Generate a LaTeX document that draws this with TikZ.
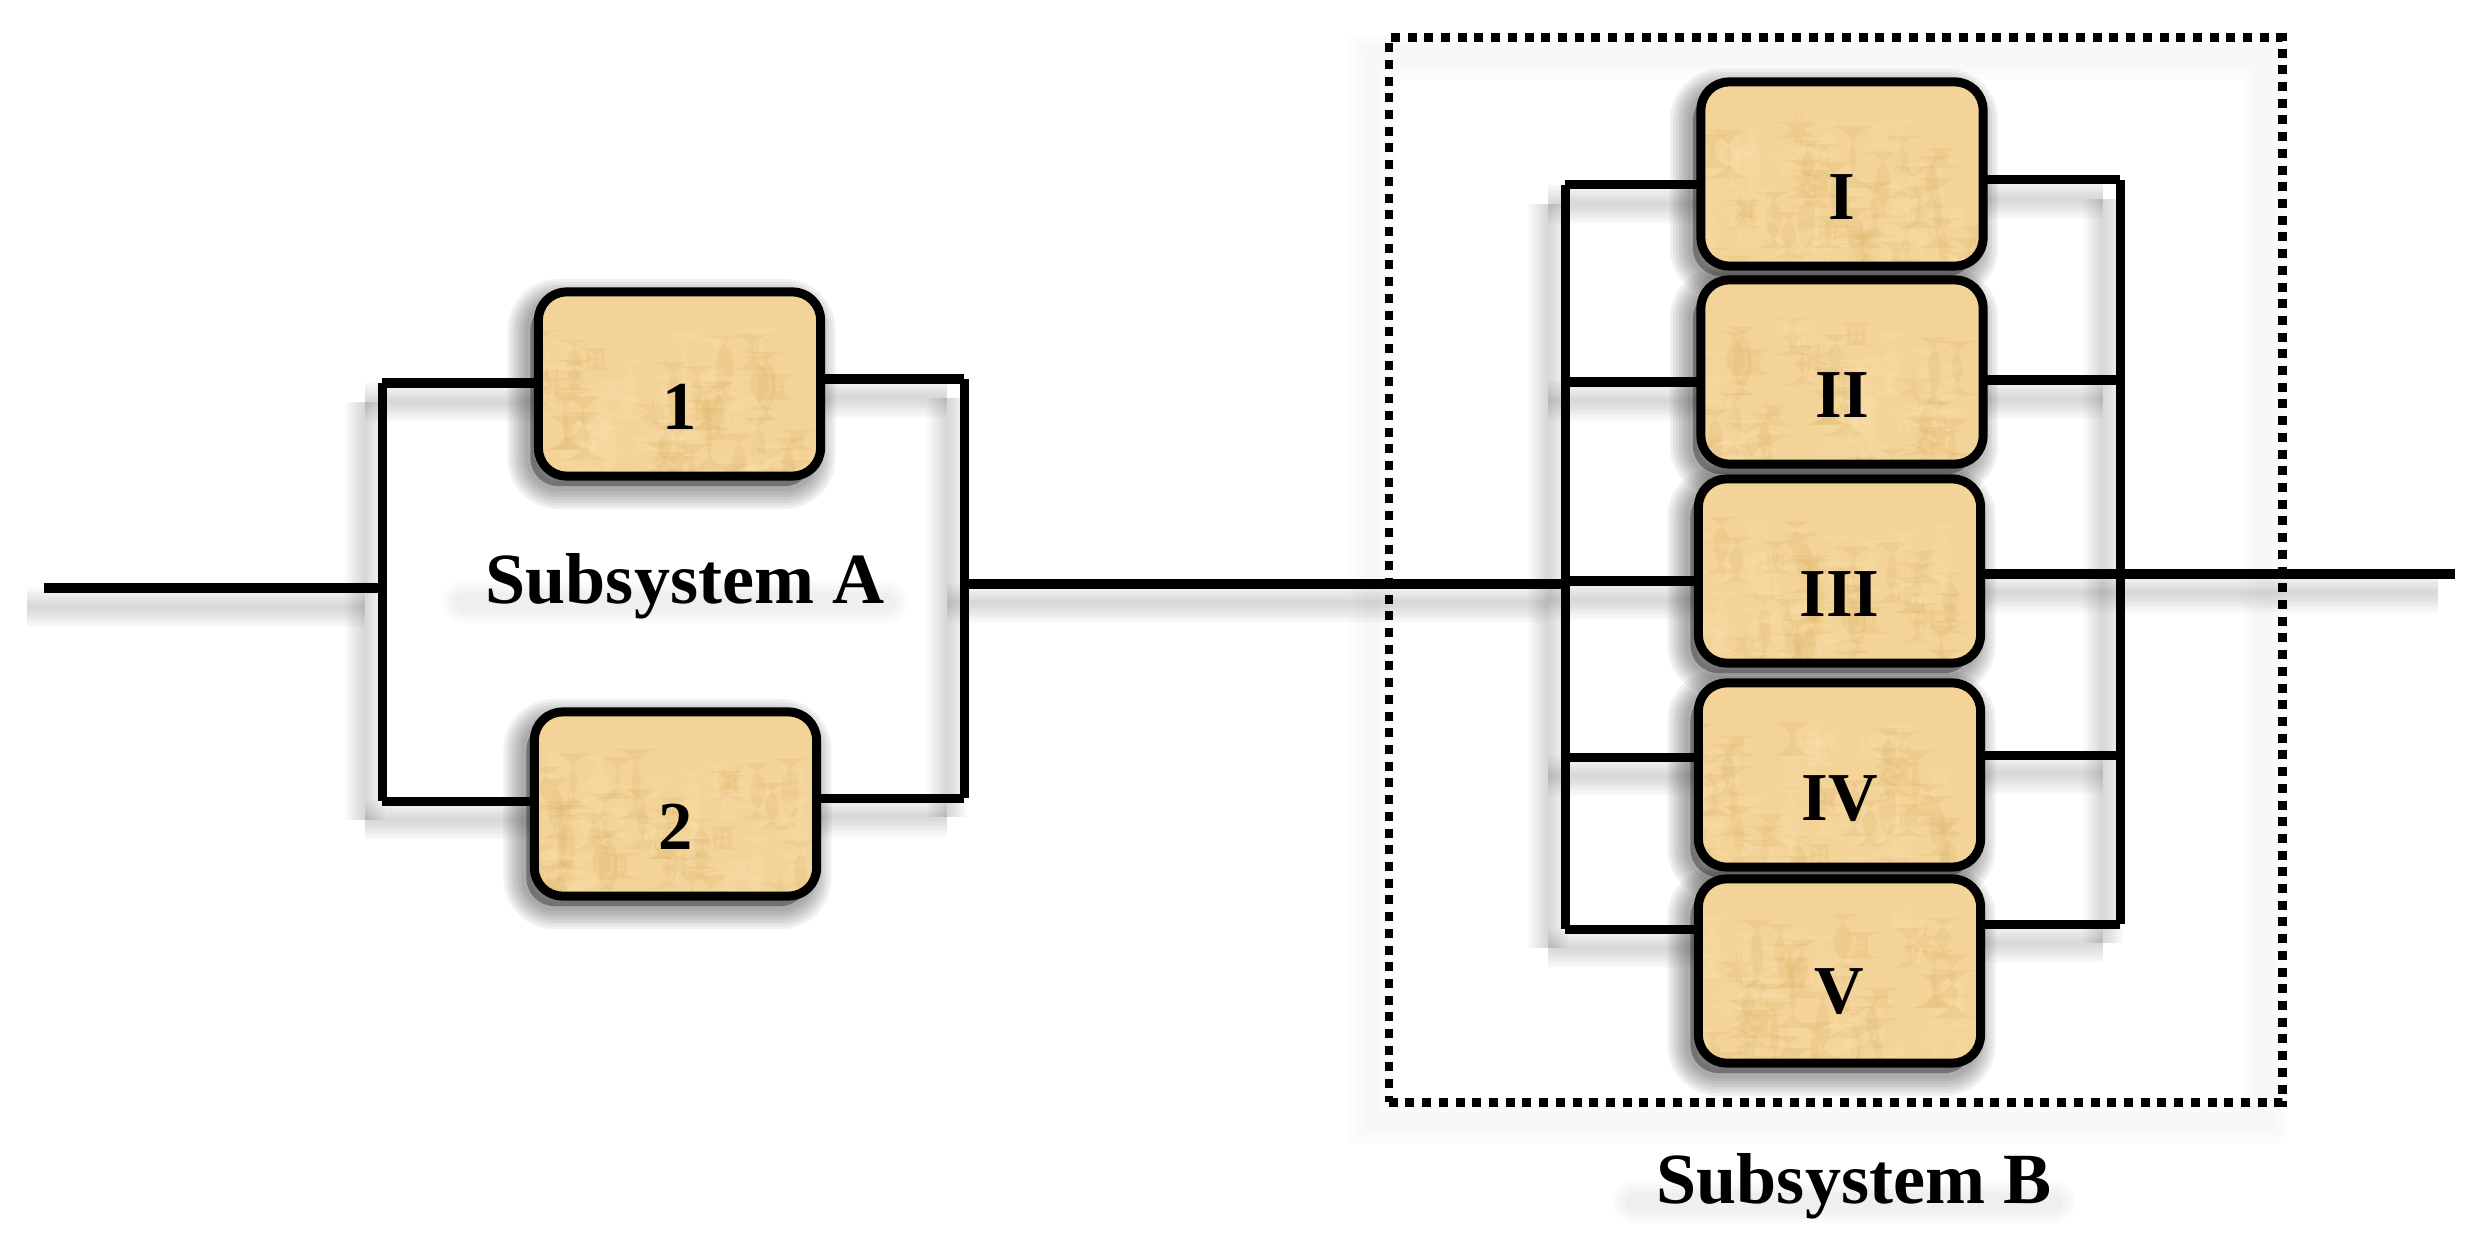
\documentclass[tikz,border=0pt]{standalone}
\usepackage{fontspec}
\setmainfont{Liberation Serif}
\usetikzlibrary{positioning}
\definecolor{boxtan}{HTML}{F3D398}
\definecolor{boxdark}{HTML}{D8B064}
\definecolor{boxlight}{HTML}{FFE4B4}
\tikzset{
  softlayer/.style={preaction={draw=black,solid,draw opacity=.02,line width=#1,
      transform canvas={xshift=-.17cm,yshift=-.19cm}}},
  softwire/.style={softlayer=.40cm,softlayer=.35cm,softlayer=.30cm,softlayer=.25cm,softlayer=.20cm,softlayer=.15cm,softlayer=.10cm,softlayer=.06cm},
  framelayer/.style={preaction={draw=black,solid,draw opacity=.009,line width=#1,
      transform canvas={xshift=-.17cm,yshift=-.19cm}}},
  softframe/.style={framelayer=.46cm,framelayer=.36cm,framelayer=.26cm,framelayer=.16cm},
  boxlayer/.style={preaction={draw=black,fill=black,draw opacity=.055,fill opacity=.055,line width=#1,
      transform canvas={xshift=-.08cm,yshift=-.1cm}}},
  wire/.style={draw=black,line width=.09cm,softwire},
  unitbox/.style={draw=black,line width=.09cm,fill=boxtan,rounded corners=.28cm,
      minimum width=2.82cm,minimum height=1.84cm,inner sep=0pt,
      text height=.9cm,text depth=0pt,font=\fontsize{19.5}{20}\selectfont\bfseries,
      boxlayer=.46cm,boxlayer=.40cm,boxlayer=.34cm,boxlayer=.28cm,boxlayer=.22cm,boxlayer=.16cm,boxlayer=.10cm,
      path picture={
        \foreach \k in {1,...,100}{
          \pgfmathsetmacro{\rx}{mod(\k*\k+#1*131,285)-142}
          \pgfmathsetmacro{\ry}{mod(\k*41+#1*59,190)-100}
          \pgfmathsetmacro{\rw}{6+mod(\k*5,14)}
          \pgfmathsetmacro{\rh}{12+mod(\k*29,60)}
          \pgfmathsetmacro{\rc}{mod(\k,2)==0 ? "boxdark" : "boxlight"}
          \fill[\rc,opacity=.2] (\rx,\ry) rectangle ++(\rw,\rh);
        }
      }},
  dotbox/.style={draw=black,line width=.085cm,dash pattern=on .09cm off .077cm,
      minimum width=8.93cm,minimum height=10.64cm,softframe},
  sublabel/.style={anchor=base,font=\fontsize{20.5}{22}\selectfont\bfseries},
  ghostlayer/.style={preaction={draw=black,line cap=round,draw opacity=.014,line width=#1,
      transform canvas={xshift=-.1cm,yshift=-.16cm}}},
  textghost/.style={ghostlayer=.42cm,ghostlayer=.34cm,ghostlayer=.26cm,ghostlayer=.18cm},
}

\begin{document}
\begin{tikzpicture}[x=.01cm,y=-.01cm]
  \useasboundingbox (0,0) rectangle (2488,1249);
  % frame of the second group
  \node[dotbox] (frameB) at (1835.5,570) {};
  % corners and free ends
  \coordinate (inA) at (44,588);
  \coordinate (outB) at (2455,574);
  \coordinate (leftA) at (382,588);
  \coordinate (rightA) at (964,584);
  \coordinate (leftB) at (1565,584);
  \coordinate (rightB) at (2120,574);
  % wires
  \draw[wire] (inA) -- (leftA);
  \draw[wire] (382,383) coordinate (a1) -- (382,801) coordinate (a2);
  \draw[wire] (964,379) coordinate (a3) -- (964,798) coordinate (a4);
  \draw[wire] (rightA) -- (leftB);
  \draw[wire] (1565,185) coordinate (b1) -- (1565,929) coordinate (b2);
  \draw[wire] (2120,180) coordinate (b3) -- (2120,924) coordinate (b4);
  \draw[wire] (rightB) -- (outB);
  % branches behind the boxes
  \draw[wire] (a1) -- (679,383);
  \draw[wire] (a2) -- (675,801);
  \draw[wire] (a3) -- (679,379);
  \draw[wire] (a4) -- (675,798);
  \draw[wire] (b1) -- (1842,185);
  \draw[wire] (1565,382) -- (1842,382);
  \draw[wire] (1565,581) -- (1840,581);
  \draw[wire] (1565,757) -- (1840,757);
  \draw[wire] (b2) -- (1840,929);
  \draw[wire] (b3) -- (1842,180);
  \draw[wire] (2120,380) -- (1842,380);
  \draw[wire] (rightB) -- (1840,574);
  \draw[wire] (2120,755) -- (1840,755);
  \draw[wire] (b4) -- (1840,924);
  % units
  \node[unitbox=1] (u1) at (679.5,384) {1};
  \node[unitbox=2] (u2) at (675.5,804) {2};
  \node[unitbox=3] (uI) at (1842,174) {I};
  \node[unitbox=4] (uII) at (1842,372) {II};
  \node[unitbox=5] (uIII) at (1839.5,571) {III};
  \node[unitbox=6] (uIV) at (1839.5,775) {IV};
  \node[unitbox=7,text height=.84cm] (uV) at (1839.5,971) {V};
  % group names
  \node[sublabel] (nameA) at (685,603) {Subsystem A};
  \node[sublabel] (nameB) at (1854,1203) {Subsystem B};
  \path[textghost] (nameA.west) -- (nameA.east);
  \path[textghost] (nameB.west) -- (nameB.east);
\end{tikzpicture}
\end{document}
